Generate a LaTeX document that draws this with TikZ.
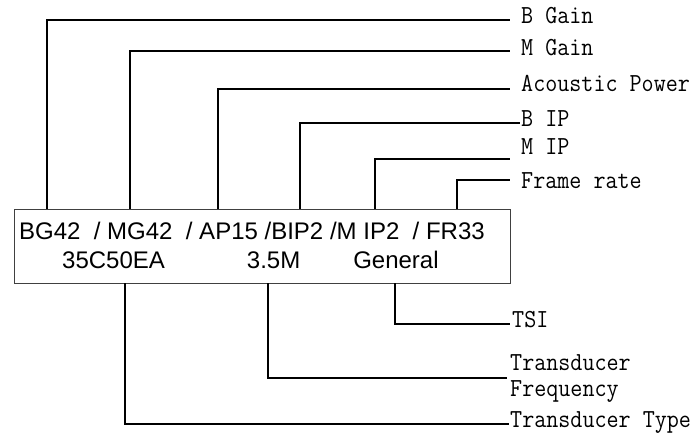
\documentclass[tikz,border=0pt]{standalone}
\usepackage{fontspec}
\usepackage{tikz}
\usetikzlibrary{positioning}
\newfontfamily\tagfont[FakeStretch=0.9]{Latin Modern Mono}
\newfontfamily\panelfont{Liberation Sans}
\tikzstyle{wire} = [line width=1.4pt]
\tikzstyle{tag} = [anchor=west, inner xsep=11pt, inner ysep=0pt, font=\tagfont\fontsize{26}{26}\selectfont]
\tikzstyle{onetag} = [tag, text height=0.62em, text depth=0.1em]
\tikzstyle{lowtag} = [onetag, inner xsep=2pt]
\tikzstyle{param} = [anchor=base west, inner sep=0pt, font=\panelfont\fontsize{24}{28}\selectfont]

\begin{document}
\begin{tikzpicture}[x=1pt, y=-1pt]
    \useasboundingbox (0,0) rectangle (696,445);
    % parameter panel
    \node[draw=black!75, line width=0.9pt, minimum width=496pt, minimum height=74pt, inner sep=0pt] (panel) at (262,246) {};
    \node[param] (params) at (19,239) {BG42\ \ / MG42\ \ / AP15 /BIP2 /M IP2\ \ / FR33};
    \node[param] (probe) at (62,268) {35C50EA\hspace{82pt}3.5M\hspace{53pt}General};
    % upper tags
    \node[onetag] (bgain) at (510,21) {B Gain};
    \node[onetag] (mgain) at (510,53) {M Gain};
    \node[onetag] (acpow) at (510,89) {Acoustic Power};
    \node[onetag, inner xsep=1pt] (bip) at (520,124) {B IP};
    \node[onetag] (mip) at (510,152) {M IP};
    \node[onetag] (frate) at (510,186) {Frame rate};
    \draw[wire] (panel.north -| 47,0) |- ([yshift=1pt]bgain.west);
    \draw[wire] (panel.north -| 130,0) |- ([yshift=2pt]mgain.west);
    \draw[wire] (panel.north -| 218,0) |- (acpow.west);
    \draw[wire] (panel.north -| 300,0) |- ([yshift=1pt]bip.west);
    \draw[wire] (panel.north -| 375,0) |- ([yshift=-7pt]mip.west);
    \draw[wire] (panel.north -| 457,0) |- ([yshift=6pt]frate.west);
    % lower tags
    \node[lowtag] (tsi) at (510,325) {TSI};
    \node[tag, inner xsep=3pt, align=left] (tfreq) at (507,379) {Transducer\\Frequency};
    \node[lowtag, inner xsep=1pt] (ttype) at (509,425) {Transducer Type};
    \draw[wire] (panel.south -| 395,0) |- ([yshift=1pt]tsi.west);
    \draw[wire] (panel.south -| 268,0) |- ([yshift=1pt]tfreq.west);
    \draw[wire] (panel.south -| 125,0) |- ([yshift=1pt]ttype.west);
\end{tikzpicture}
\end{document}
